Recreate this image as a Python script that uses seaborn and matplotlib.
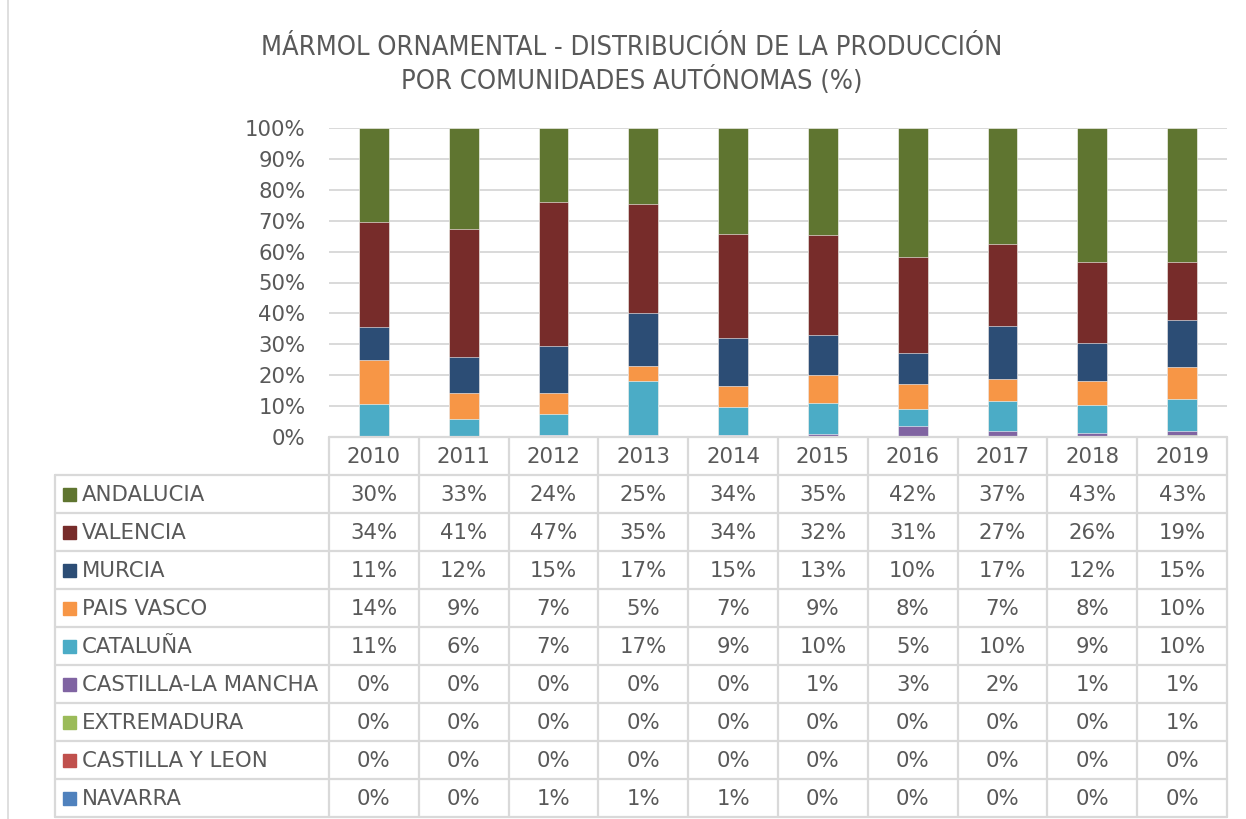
import numpy as np
import pandas as pd
import matplotlib
matplotlib.use("Agg")
import matplotlib.pyplot as plt
from matplotlib.patches import Rectangle
import seaborn as sns


# ------------------ DATA ------------------

years = [2010, 2011, 2012, 2013, 2014, 2015, 2016, 2017, 2018, 2019]

regions = ["ANDALUCIA", "VALENCIA", "MURCIA", "PAIS VASCO", "CATALUÑA",
           "CASTILLA-LA MANCHA", "EXTREMADURA", "CASTILLA Y LEON", "NAVARRA"]

andalucia = [30.4, 32.7, 24.1, 24.6, 34.3, 34.6, 41.8, 37.4, 43.4, 43.3]
valencia = [34.0, 41.3, 46.6, 35.3, 33.8, 32.4, 31.1, 26.7, 26.2, 18.9]
murcia = [10.7, 11.6, 14.9, 17.1, 15.3, 12.9, 9.8, 17.1, 12.3, 15.2]
pais_vasco = [14.2, 8.6, 6.8, 5.0, 6.9, 9.1, 8.4, 7.1, 7.8, 10.4]
cataluna = [10.7, 5.8, 7.0, 17.4, 8.9, 10.0, 5.3, 9.8, 8.9, 10.3]
castilla_la_mancha = [0.0, 0.0, 0.0, 0.0, 0.0, 1.0, 3.3, 1.6, 1.2, 1.3]
extremadura = [0.0, 0.0, 0.0, 0.0, 0.2, 0.0, 0.3, 0.3, 0.2, 0.6]
castilla_y_leon = [0.0, 0.0, 0.0, 0.0, 0.0, 0.0, 0.0, 0.0, 0.0, 0.0]
navarra = [0.0, 0.0, 0.6, 0.6, 0.6, 0.0, 0.0, 0.0, 0.0, 0.0]

title = "MÁRMOL ORNAMENTAL - DISTRIBUCIÓN DE LA PRODUCCIÓN\nPOR COMUNIDADES AUTÓNOMAS (%)"


# ------------------ STYLE ------------------

sns.set_theme(style="white")
plt.rcParams["font.family"] = ["DejaVu Sans"]

TEXT = "#595959"
GRID = "#D9D9D9"

PALETTE = {
    "ANDALUCIA": "#5F7530",
    "VALENCIA": "#772C2A",
    "MURCIA": "#2C4D75",
    "PAIS VASCO": "#F79646",
    "CATALUÑA": "#4BACC6",
    "CASTILLA-LA MANCHA": "#8064A2",
    "EXTREMADURA": "#9BBB59",
    "CASTILLA Y LEON": "#C0504D",
    "NAVARRA": "#4F81BD",
}

series = dict(zip(regions, [andalucia, valencia, murcia, pais_vasco, cataluna,
                            castilla_la_mancha, extremadura, castilla_y_leon, navarra]))
df = pd.DataFrame(series, index=years)
# 100% stacked
df = df.div(df.sum(axis=1), axis=0) * 100


# ------------------ LAYOUT (pixels) ------------------

W, H = 1246, 819
PL, PR, PT, PB = 329, 1227, 128, 437
ROW_H = 38
HEAD_H = 38
TAB_L = 55
FS = 15.3

fig = plt.figure(figsize=(W / 100, H / 100), dpi=100)
ax = fig.add_axes([PL / W, 1 - PB / H, (PR - PL) / W, (PB - PT) / H])


# ------------------ BARS ------------------

# cumulative tops, drawn from the top layer down so lower layers cover
stack = list(reversed(regions))
tops = df[stack].cumsum(axis=1)
xlab = [str(y) for y in years]

for r in regions:
    sns.barplot(
        x=xlab,
        y=tops[r].values,
        color=PALETTE[r],
        saturation=1,
        width=1 / 3,
        edgecolor="#FFFFFF",
        linewidth=0.4,
        ax=ax,
    )

ax.set_ylim(0, 100)
ax.set_xlim(-0.5, len(years) - 0.5)
ax.set_yticks(np.arange(0, 101, 10))
ax.set_yticklabels([f"{v}%" for v in range(0, 101, 10)])
ax.set_xticks([])
ax.set_xlabel("")
ax.set_ylabel("")
ax.yaxis.grid(True, color=GRID, linewidth=1.4)
ax.set_axisbelow(True)
ax.tick_params(axis="y", length=0, pad=17, labelsize=FS, labelcolor=TEXT)
for s in ax.spines.values():
    s.set_visible(False)


# ------------------ DATA TABLE ------------------

tab = fig.add_axes([0, 0, 1, 1])
tab.set_xlim(0, W)
tab.set_ylim(H, 0)
tab.axis("off")

col_edges = np.linspace(PL, PR, len(years) + 1)
col_mid = (col_edges[:-1] + col_edges[1:]) / 2
row_top = PB + HEAD_H
row_edges = row_top + ROW_H * np.arange(len(regions) + 1)
tab_bot = row_edges[-1]

lw = 1.6
tab.plot([PL, PR], [PB, PB], color=GRID, lw=lw)
for y in row_edges:
    tab.plot([TAB_L, PR], [y, y], color=GRID, lw=lw)
for x in col_edges:
    tab.plot([x, x], [PB, tab_bot], color=GRID, lw=lw)
tab.plot([TAB_L, TAB_L], [row_top, tab_bot], color=GRID, lw=lw)

for x, y in zip(col_mid, years):
    tab.text(x, PB + HEAD_H / 2 + 1, str(y), ha="center", va="center",
             fontsize=FS, color=TEXT)

for i, r in enumerate(regions):
    yc = row_edges[i] + ROW_H / 2
    tab.add_patch(Rectangle((63, yc - 6.5), 13, 13, color=PALETTE[r]))
    tab.text(82, yc + 1, r, ha="left", va="center", fontsize=FS, color=TEXT)
    for x, v in zip(col_mid, df[r].values):
        tab.text(x, yc + 1, f"{int(round(v))}%", ha="center", va="center",
                 fontsize=FS, color=TEXT)

# chart border
tab.plot([8, 8], [0, H], color=GRID, lw=1.2)

# title
tab.text(632, 65, title, ha="center", va="center", fontsize=19.5, color=TEXT,
         family="DejaVu Sans", fontstretch="condensed", linespacing=1.25)

plt.savefig("out.png", dpi=100)
plt.close()
